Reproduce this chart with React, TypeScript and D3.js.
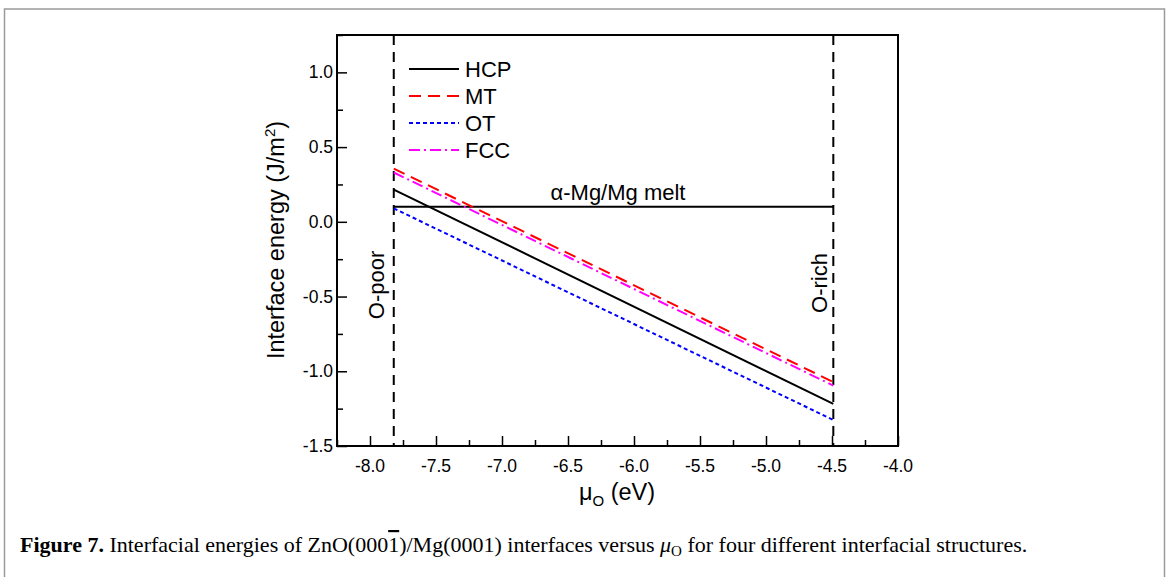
import React, { useEffect, useRef } from "react";
import * as d3 from "d3";

// chemical potential limits (eV)
const muLimits = [-7.82, -4.49];
const series = [
  { name: "HCP", values: [0.216, -1.218], color: "#000000", dash: "" },
  { name: "MT", values: [0.356, -1.072], color: "#ff0000", dash: "12,7" },
  { name: "OT", values: [0.09, -1.326], color: "#0000ff", dash: "4,3" },
  { name: "FCC", values: [0.33, -1.096], color: "#ff00ff", dash: "11,4,2,4" },
];
const meltEnergy = 0.1;
const xTicks = [-8.0, -7.5, -7.0, -6.5, -6.0, -5.5, -5.0, -4.5, -4.0];
const yTicks = [-1.5, -1.0, -0.5, 0.0, 0.5, 1.0];

const App = () => {
  const ref = useRef<SVGSVGElement>(null);

  useEffect(() => {
    const svg = d3.select(ref.current);
    svg.selectAll("*").remove();

    const font = "Liberation Sans, Arial, sans-serif";
    const x = d3.scaleLinear().domain([-8.25, -4.0]).range([337, 898]);
    const y = d3.scaleLinear().domain([-1.5, 1.25]).range([446, 35]);

    // outer figure frame
    svg
      .append("rect")
      .attr("x", 4.5)
      .attr("y", 9)
      .attr("width", 1160)
      .attr("height", 600)
      .attr("fill", "none")
      .attr("stroke", "#9a9a9a")
      .attr("stroke-width", 1.5);

    // melt line
    svg
      .append("line")
      .attr("x1", x(muLimits[0]))
      .attr("x2", x(muLimits[1]))
      .attr("y1", y(meltEnergy))
      .attr("y2", y(meltEnergy))
      .attr("stroke", "#000")
      .attr("stroke-width", 2);

    // vertical limits
    muLimits.forEach((m) => {
      svg
        .append("line")
        .attr("x1", x(m))
        .attr("x2", x(m))
        .attr("y1", y(1.25))
        .attr("y2", y(-1.5))
        .attr("stroke", "#000")
        .attr("stroke-width", 2)
        .attr("stroke-dasharray", "10,7");
    });

    const line = d3
      .line<number>()
      .x((d, i) => x(muLimits[i]))
      .y((d) => y(d));

    series.forEach((s) => {
      svg
        .append("path")
        .attr("d", line(s.values))
        .attr("fill", "none")
        .attr("stroke", s.color)
        .attr("stroke-width", 2)
        .attr("stroke-dasharray", s.dash);
    });

    // axes (inward ticks)
    const xAxis = d3
      .axisBottom(x)
      .tickValues(d3.range(-8.25, -3.99, 0.25))
      .tickSize(-10)
      .tickFormat(() => "");
    const gx = svg.append("g").attr("transform", "translate(0,446)").call(xAxis);
    gx.selectAll(".tick line")
      .attr("y2", (d: any) => (Math.abs((d * 2) % 1) < 1e-6 ? -10 : -6))
      .attr("stroke-width", 1.5);
    gx.select(".domain").remove();

    const yAxis = d3
      .axisLeft(y)
      .tickValues(d3.range(-1.5, 1.26, 0.25))
      .tickSize(-10)
      .tickFormat(() => "");
    const gy = svg.append("g").attr("transform", "translate(337,0)").call(yAxis);
    gy.selectAll(".tick line")
      .attr("x2", (d: any) => (Math.abs((d * 2) % 1) < 1e-6 ? 10 : 6))
      .attr("stroke-width", 1.5);
    gy.select(".domain").remove();

    svg
      .append("rect")
      .attr("x", 337)
      .attr("y", 35)
      .attr("width", 898 - 337)
      .attr("height", 446 - 35)
      .attr("fill", "none")
      .attr("stroke", "#000")
      .attr("stroke-width", 2);

    svg
      .selectAll(".xl")
      .data(xTicks)
      .enter()
      .append("text")
      .attr("x", (d) => x(d))
      .attr("y", 472)
      .attr("text-anchor", "middle")
      .attr("font-family", font)
      .attr("font-size", 17.5)
      .text((d) => d.toFixed(1));

    svg
      .selectAll(".yl")
      .data(yTicks)
      .enter()
      .append("text")
      .attr("x", 333)
      .attr("y", (d) => y(d) + 6)
      .attr("text-anchor", "end")
      .attr("font-family", font)
      .attr("font-size", 17.5)
      .text((d) => d.toFixed(1));

    // axis titles
    const yt = svg
      .append("text")
      .attr("transform", "translate(284,240) rotate(-90)")
      .attr("text-anchor", "middle")
      .attr("font-family", font)
      .attr("font-size", 23.5);
    yt.append("tspan").text("Interface energy (J/m");
    yt.append("tspan").attr("font-size", 15).attr("dy", -9).text("2");
    yt.append("tspan").attr("dy", 9).text(")");

    const xt = svg
      .append("text")
      .attr("x", 617)
      .attr("y", 500)
      .attr("text-anchor", "middle")
      .attr("font-family", font)
      .attr("font-size", 23.5);
    xt.append("tspan").text("μ");
    xt.append("tspan").attr("font-size", 15).attr("dy", 6).text("O");
    xt.append("tspan").attr("dy", -6).text(" (eV)");

    // legend
    series.forEach((s, i) => {
      const ly = 69 + i * 27;
      svg
        .append("line")
        .attr("x1", 409)
        .attr("x2", 459)
        .attr("y1", ly)
        .attr("y2", ly)
        .attr("stroke", s.color)
        .attr("stroke-width", 2)
        .attr("stroke-dasharray", s.dash);
      svg
        .append("text")
        .attr("x", 465)
        .attr("y", ly + 8)
        .attr("font-family", font)
        .attr("font-size", 22)
        .text(s.name);
    });

    svg
      .append("text")
      .attr("x", 618)
      .attr("y", 200)
      .attr("text-anchor", "middle")
      .attr("font-family", font)
      .attr("font-size", 22)
      .text("α-Mg/Mg melt");

    svg
      .append("text")
      .attr("transform", "translate(384,285) rotate(-90)")
      .attr("text-anchor", "middle")
      .attr("font-family", font)
      .attr("font-size", 22)
      .text("O-poor");
    svg
      .append("text")
      .attr("transform", "translate(827,283) rotate(-90)")
      .attr("text-anchor", "middle")
      .attr("font-family", font)
      .attr("font-size", 22)
      .text("O-rich");

    // caption
    const cap = svg
      .append("text")
      .attr("x", 20)
      .attr("y", 552)
      .attr("font-family", "Liberation Serif, Times New Roman, serif")
      .attr("font-size", 22);
    cap.append("tspan").attr("font-weight", "bold").text("Figure 7.");
    cap.append("tspan").text(" Interfacial energies of ZnO(000");
    cap.append("tspan").attr("text-decoration", "overline").text("1");
    cap.append("tspan").text(")/Mg(0001) interfaces versus ");
    cap.append("tspan").attr("font-style", "italic").text("μ");
    cap.append("tspan").attr("font-size", 15).attr("dy", 4).text("O");
    cap.append("tspan").attr("dy", -4).text(" for four different interfacial structures.");
  }, []);

  return (
    <svg
      ref={ref}
      width={1169}
      height={577}
      style={{ position: "absolute", left: 0, top: 0, background: "#fff" }}
    />
  );
};

export default App;
